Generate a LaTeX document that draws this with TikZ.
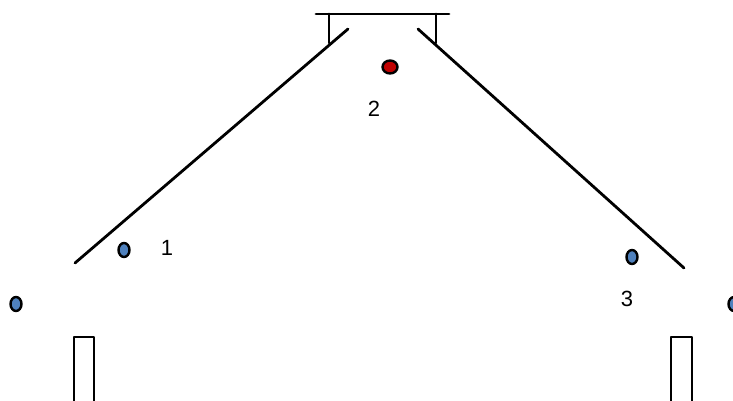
\documentclass[tikz,border=0pt]{standalone}
\usepackage{fontspec}
\setmainfont{Liberation Sans}
\usetikzlibrary{shapes.geometric}
\definecolor{dotblue}{HTML}{4F81BD}
\definecolor{dotred}{HTML}{C00000}
\tikzset{
  wall/.style={line width=2.8pt, line cap=round},
  post/.style={line width=2.6pt, line join=round},
  bluedot/.style={draw=black, line width=2.4pt, fill=dotblue, ellipse, minimum width=11pt, minimum height=14pt, inner sep=0pt},
  reddot/.style={draw=black, line width=2.4pt, fill=dotred, ellipse, minimum width=15pt, minimum height=13pt, inner sep=0pt},
  numlabel/.style={font=\fontsize{22}{26}\selectfont, inner sep=0pt}
}
\begin{document}
\begin{tikzpicture}[x=1pt, y=-1pt]
  \useasboundingbox (0,0) rectangle (733,401);
  % top bar with its two short legs
  \coordinate (barL) at (316,14);
  \coordinate (barR) at (449,14);
  \coordinate (legL) at (329,43);
  \coordinate (legR) at (436,43);
  \draw[wall] (barL) -- (barR);
  \draw[wall] (329,14) -- (legL);
  \draw[wall] (436,14) -- (legR);
  % the two sloping walls
  \coordinate (lwTop) at (348,29);
  \coordinate (lwBot) at (75,263);
  \coordinate (rwTop) at (418,29);
  \coordinate (rwBot) at (684,268);
  \draw[wall] (lwTop) -- (lwBot);
  \draw[wall] (rwTop) -- (rwBot);
  % posts at the bottom
  \draw[post] (74,404) -- (74,337) -- (94,337) -- (94,404);
  \draw[post] (671,404) -- (671,337) -- (692,337) -- (692,404);
  % points
  \node[reddot] (p2) at (390,67) {};
  \node[bluedot] (p1) at (124,250) {};
  \node[bluedot] (p0) at (16,304) {};
  \node[bluedot] (p3) at (632,257) {};
  \node[bluedot] (p4) at (734,304) {};
  % labels
  \node[numlabel] (l2) at (374,109) {2};
  \node[numlabel] (l1) at (167,248) {1};
  \node[numlabel] (l3) at (627,299) {3};
\end{tikzpicture}
\end{document}
